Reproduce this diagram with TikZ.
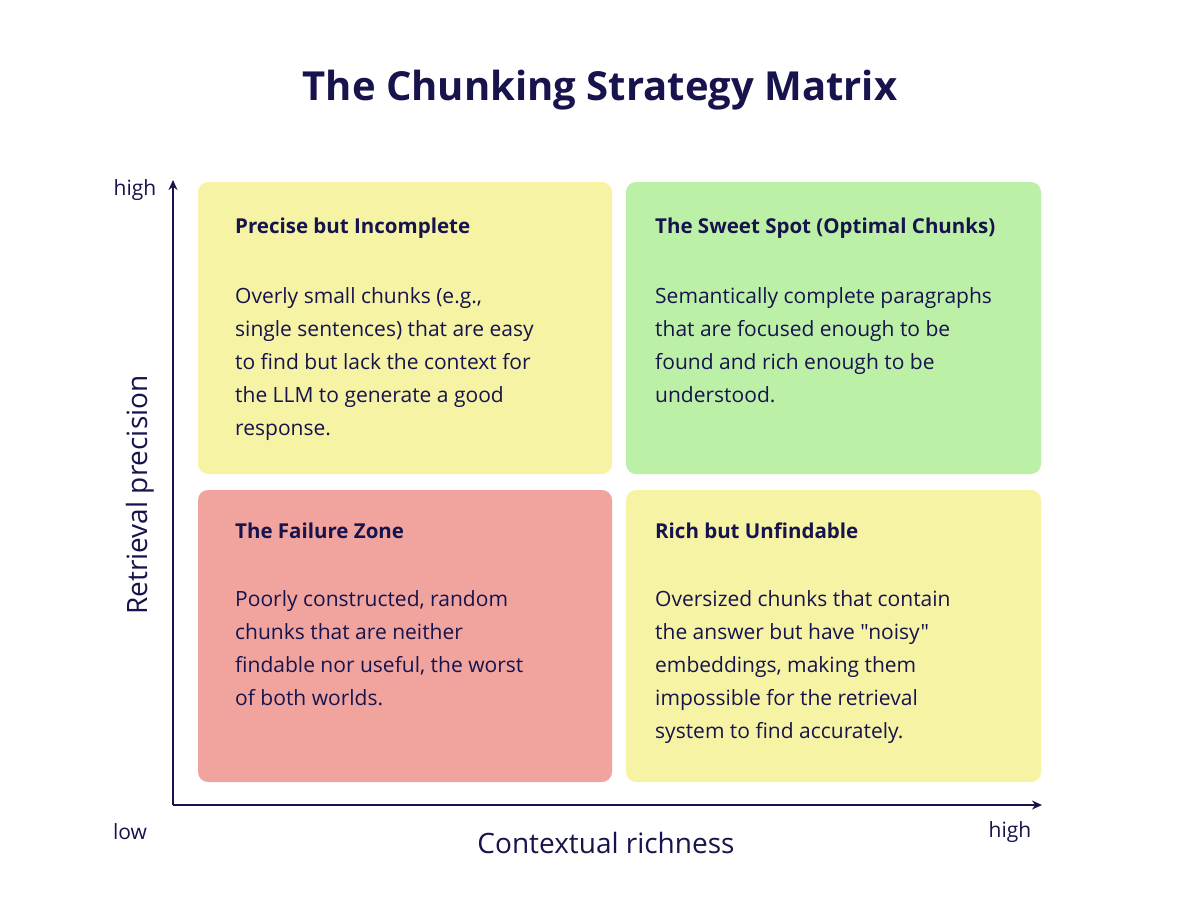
\documentclass[tikz,border=0pt]{standalone}
\usepackage{fontspec}
\setmainfont{Open Sans}[Ligatures=TeXOff]
\usetikzlibrary{arrows.meta}
\definecolor{ink}{HTML}{16134D}
\definecolor{yel}{HTML}{F6F3A4}
\definecolor{grn}{HTML}{BDF0A7}
\definecolor{redb}{HTML}{F1A49E}
\tikzset{
 quad/.style={rounded corners=10pt,draw=none},
 qtitle/.style={anchor=west,inner sep=0pt,text=ink,font=\fontsize{20.5}{24}\selectfont\bfseries},
 qbody/.style={anchor=north west,inner sep=0pt,text=ink,align=left,font=\fontsize{21}{33}\selectfont},
 axis/.style={draw=ink,line width=1.5pt,-{Stealth[length=10pt,width=9pt]}},
 lab/.style={text=ink,font=\fontsize{21}{24}\selectfont}
}
\begin{document}
\begin{tikzpicture}[x=1pt,y=-1pt]
\useasboundingbox[fill=white] (0,0) rectangle (1200,918);
\node[text=ink,font=\fontsize{40}{48}\selectfont\bfseries] (title) at (600,90) {The Chunking Strategy Matrix};
\fill[quad,yel] (198,182) rectangle (612,474);
\fill[quad,grn] (626,182) rectangle (1041,474);
\fill[quad,redb] (198,490) rectangle (612,782);
\fill[quad,yel] (626,490) rectangle (1041,782);
\node[qtitle] (t1) at (235,228) {Precise but Incomplete};
\node[qtitle] (t2) at (655,228) {The Sweet Spot (Optimal Chunks)};
\node[qtitle] (t3) at (235,531) {The Failure Zone};
\node[qtitle] (t4) at (655,531) {Rich but Unfindable};
\node[qbody] (b1) at (235,287) {Overly small chunks (e.g.,\\single sentences) that are easy\\to find but lack the context for\\the LLM to generate a good\\response.};
\node[qbody] (b2) at (655,287) {Semantically complete paragraphs\\that are focused enough to be\\found and rich enough to be\\understood.};
\node[qbody] (b3) at (235,590) {Poorly constructed, random\\chunks that are neither\\findable nor useful, the worst\\of both worlds.};
\node[qbody] (b4) at (655,590) {Oversized chunks that contain\\the answer but have "noisy"\\embeddings, making them\\impossible for the retrieval\\system to find accurately.};
\coordinate (o) at (173,805);
\coordinate (ytop) at (173,180);
\coordinate (xend) at (1042,805);
\draw[axis] (o) -- (ytop);
\draw[axis] (o) -- (xend);
\node[lab] (yh) at (135,190) {high};
\node[lab] (xl) at (130,832) {low};
\node[lab] (xh) at (1010,832) {high};
\node[text=ink,font=\fontsize{28}{32}\selectfont] (xlab) at (606,843) {Contextual richness};
\node[text=ink,font=\fontsize{28}{32}\selectfont,rotate=90] (ylab) at (140,495) {Retrieval precision};
\end{tikzpicture}
\end{document}
